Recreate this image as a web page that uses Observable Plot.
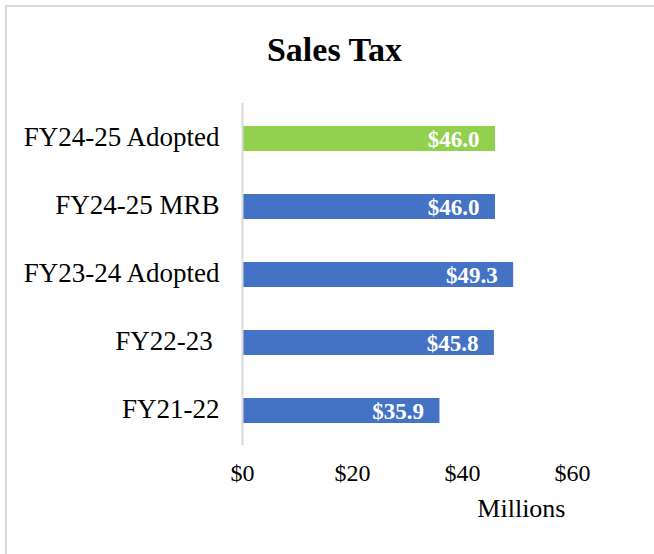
<!DOCTYPE html>
<html>
<head>
<meta charset="utf-8">
<script src="https://cdn.jsdelivr.net/npm/d3@7"></script>
<script src="https://cdn.jsdelivr.net/npm/@observablehq/plot@0.6"></script>
<style>
  html, body { margin: 0; padding: 0; background: #fff; }
  #wrap { position: relative; width: 654px; height: 554px; overflow: hidden; font-family: "Liberation Serif", "Times New Roman", serif; }
  #border { position: absolute; left: 5px; top: 5px; width: 700px; height: 700px; border-top: 2px solid #d9d9d9; border-left: 2px solid #d9d9d9; box-sizing: border-box; }
  #title { position: absolute; left: 0; top: 33px; width: 654px; padding-left: 15px; box-sizing: border-box; text-align: center; font-weight: bold; font-size: 34px; line-height: 1; color: #000; }
  #chart { position: absolute; left: 0; top: 0; }
  svg text { white-space: pre; }
</style>
</head>
<body>
<div id="wrap">
  <div id="border"></div>
  <div id="chart"></div>
  <div id="title">Sales Tax</div>
</div>
<script>
const categories = ["FY24-25 Adopted", "FY24-25 MRB", "FY23-24 Adopted", "FY22-23 ", "FY21-22"];
const values = [46.0, 46.0, 49.3, 45.8, 35.9];
const xTicks = [0, 20, 40, 60];
const highlight = "FY24-25 Adopted";
const axisLabel = "Millions";

const data = categories.map((c, i) => ({category: c, value: values[i]}));

const chart = Plot.plot({
  width: 654,
  height: 554,
  marginLeft: 242,
  marginRight: 82,
  marginTop: 103,
  marginBottom: 109,
  style: {fontFamily: '"Liberation Serif", "Times New Roman", serif', color: "#000", background: "transparent"},
  x: {domain: [0, 60]},
  y: {domain: categories, paddingInner: 0.635, paddingOuter: 0.3175},
  marks: [
    Plot.barX(data, {
      x: "value",
      y: "category",
      fill: d => d.category === highlight ? "#92D050" : "#4472C4"
    }),
    Plot.ruleX([0], {stroke: "#d9d9d9", strokeWidth: 2}),
    Plot.text(data, {
      x: "value",
      y: "category",
      text: d => "$" + d.value.toFixed(1),
      textAnchor: "end",
      dx: -16,
      dy: 1,
      fill: "white",
      fontWeight: "bold",
      fontSize: 23
    }),
    Plot.axisY({
      tickSize: 0,
      tickPadding: 23,
      fontSize: 27,
      dy: -1.5,
      label: null,
      tickFormat: d => d.replace(/ $/, "\u00a0")
    }),
    Plot.axisX({
      ticks: xTicks,
      tickSize: 0,
      tickPadding: 18,
      fontSize: 24,
      label: null,
      tickFormat: d => "$" + d
    }),
    Plot.text([axisLabel], {
      frameAnchor: "bottom-right",
      textAnchor: "end",
      dx: -7,
      dy: 71,
      fontSize: 26,
      fill: "#000"
    })
  ]
});
document.getElementById("chart").appendChild(chart);
</script>
</body>
</html>
